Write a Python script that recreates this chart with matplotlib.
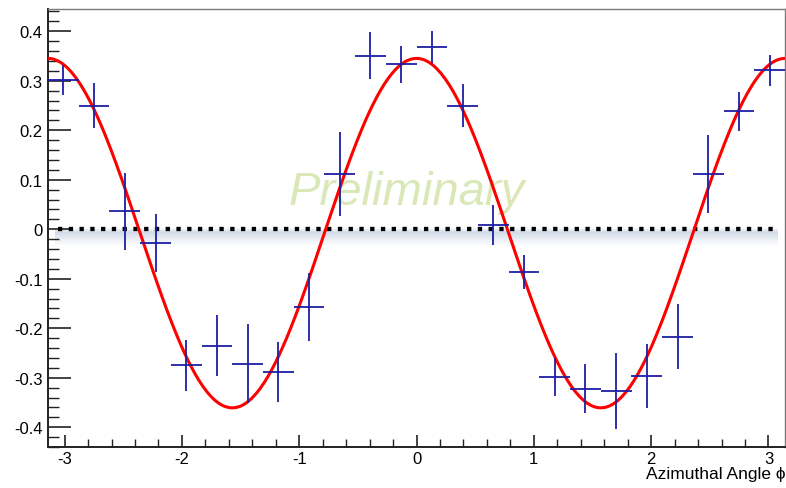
import numpy as np
import matplotlib
matplotlib.use("Agg")
import matplotlib.pyplot as plt
from matplotlib.ticker import MultipleLocator

plt.rcParams["font.family"] = ["Liberation Sans", "DejaVu Sans"]
plt.rcParams["axes.unicode_minus"] = False

# Binned asymmetry vs azimuthal angle (24 bins over [-pi, pi])
phi_centers = [-3.011, -2.749, -2.487, -2.225, -1.963, -1.702, -1.440, -1.178,
               -0.916, -0.654, -0.393, -0.131, 0.131, 0.393, 0.654, 0.916,
               1.178, 1.440, 1.702, 1.963, 2.225, 2.487, 2.749, 3.011]
phi_halfwidth = [0.131] * 24
asym = [0.301, 0.250, 0.036, -0.028, -0.275, -0.235, -0.272, -0.289,
        -0.157, 0.111, 0.351, 0.333, 0.368, 0.250, 0.009, -0.086,
        -0.298, -0.322, -0.327, -0.296, -0.217, 0.111, 0.238, 0.321]
asym_err = [0.030, 0.045, 0.078, 0.058, 0.051, 0.062, 0.080, 0.061,
            0.069, 0.085, 0.047, 0.037, 0.033, 0.044, 0.041, 0.035,
            0.038, 0.050, 0.076, 0.065, 0.066, 0.079, 0.039, 0.032]

# Fit: p0 + p1*cos(2*phi)
fit_p0 = -0.0078
fit_p1 = 0.353

x_ticks = [-3, -2, -1, 0, 1, 2, 3]
x_ticklabels = ["-3", "-2", "-1", "0", "1", "2", "3"]
y_ticks = [-0.4, -0.3, -0.2, -0.1, 0, 0.1, 0.2, 0.3, 0.4]
y_ticklabels = ["-0.4", "-0.3", "-0.2", "-0.1", "0", "0.1", "0.2", "0.3", "0.4"]

fig = plt.figure(figsize=(7.86, 4.89), dpi=100)
ax = fig.add_axes([0.0611, 0.0838, 0.9377, 0.8957])
ax.set_xlim(-np.pi, np.pi)
ax.set_ylim(-0.44, 0.445)

# Watermark
ax.text(-0.085, 0.051, "Preliminary", fontsize=34, style="italic",
        color="#dae7b6", ha="center", va="baseline", zorder=1)

# Soft shadow under the zero line
band_top, band_bot = 0.004, -0.036
prof = np.linspace(0, 1, 60)
alpha = np.clip(np.where(prof < 0.25, prof / 0.25, (1 - prof) / 0.75), 0, 1) ** 1.2 * 0.9
rgba = np.zeros((60, 1, 4))
rgba[..., 0] = 0.80
rgba[..., 1] = 0.84
rgba[..., 2] = 0.90
rgba[:, 0, 3] = alpha
ax.imshow(rgba, extent=[-3.08, 3.08, band_bot, band_top], aspect="auto",
          origin="upper", zorder=1.5, interpolation="bilinear")

# Zero reference line
ax.plot([-3.06, 3.07], [0, 0], color="black", lw=3.1,
        linestyle=(0, (1.0, 1.5)), dash_capstyle="butt", zorder=2)

# Fit curve
xf = np.linspace(-np.pi, np.pi, 400)
ax.plot(xf, fit_p0 + fit_p1 * np.cos(2 * xf), color="#ff0000", lw=2.2, zorder=3)

# Data points
ax.errorbar(phi_centers, asym, xerr=phi_halfwidth, yerr=asym_err, fmt="none",
            ecolor="#1e1ea4", elinewidth=1.3, capsize=0, zorder=4)

# Frame and ticks
for side in ("top", "right"):
    ax.spines[side].set_color("#7a7a7a")
    ax.spines[side].set_linewidth(1.0)
for side in ("left", "bottom"):
    ax.spines[side].set_color("#222222")
    ax.spines[side].set_linewidth(1.4)

ax.xaxis.set_minor_locator(MultipleLocator(0.2))
ax.yaxis.set_minor_locator(MultipleLocator(0.02))
ax.set_xticks(x_ticks)
ax.set_xticklabels(x_ticklabels)
ax.set_yticks(y_ticks)
ax.set_yticklabels(y_ticklabels)

ax.tick_params(axis="y", which="major", direction="in", length=16.5, width=1.2,
               color="#222222", labelsize=12, pad=4)
ax.tick_params(axis="y", which="minor", direction="in", length=8, width=1.0,
               color="#222222")
ax.tick_params(axis="x", which="major", direction="in", length=8.8, width=1.2,
               color="#222222", labelsize=12, pad=3)
ax.tick_params(axis="x", which="minor", direction="in", length=5.5, width=1.0,
               color="#222222")

ax.set_xlabel("Azimuthal Angle ϕ", fontsize=12.5, loc="right", labelpad=0)

fig.savefig("out.png", dpi=100)
